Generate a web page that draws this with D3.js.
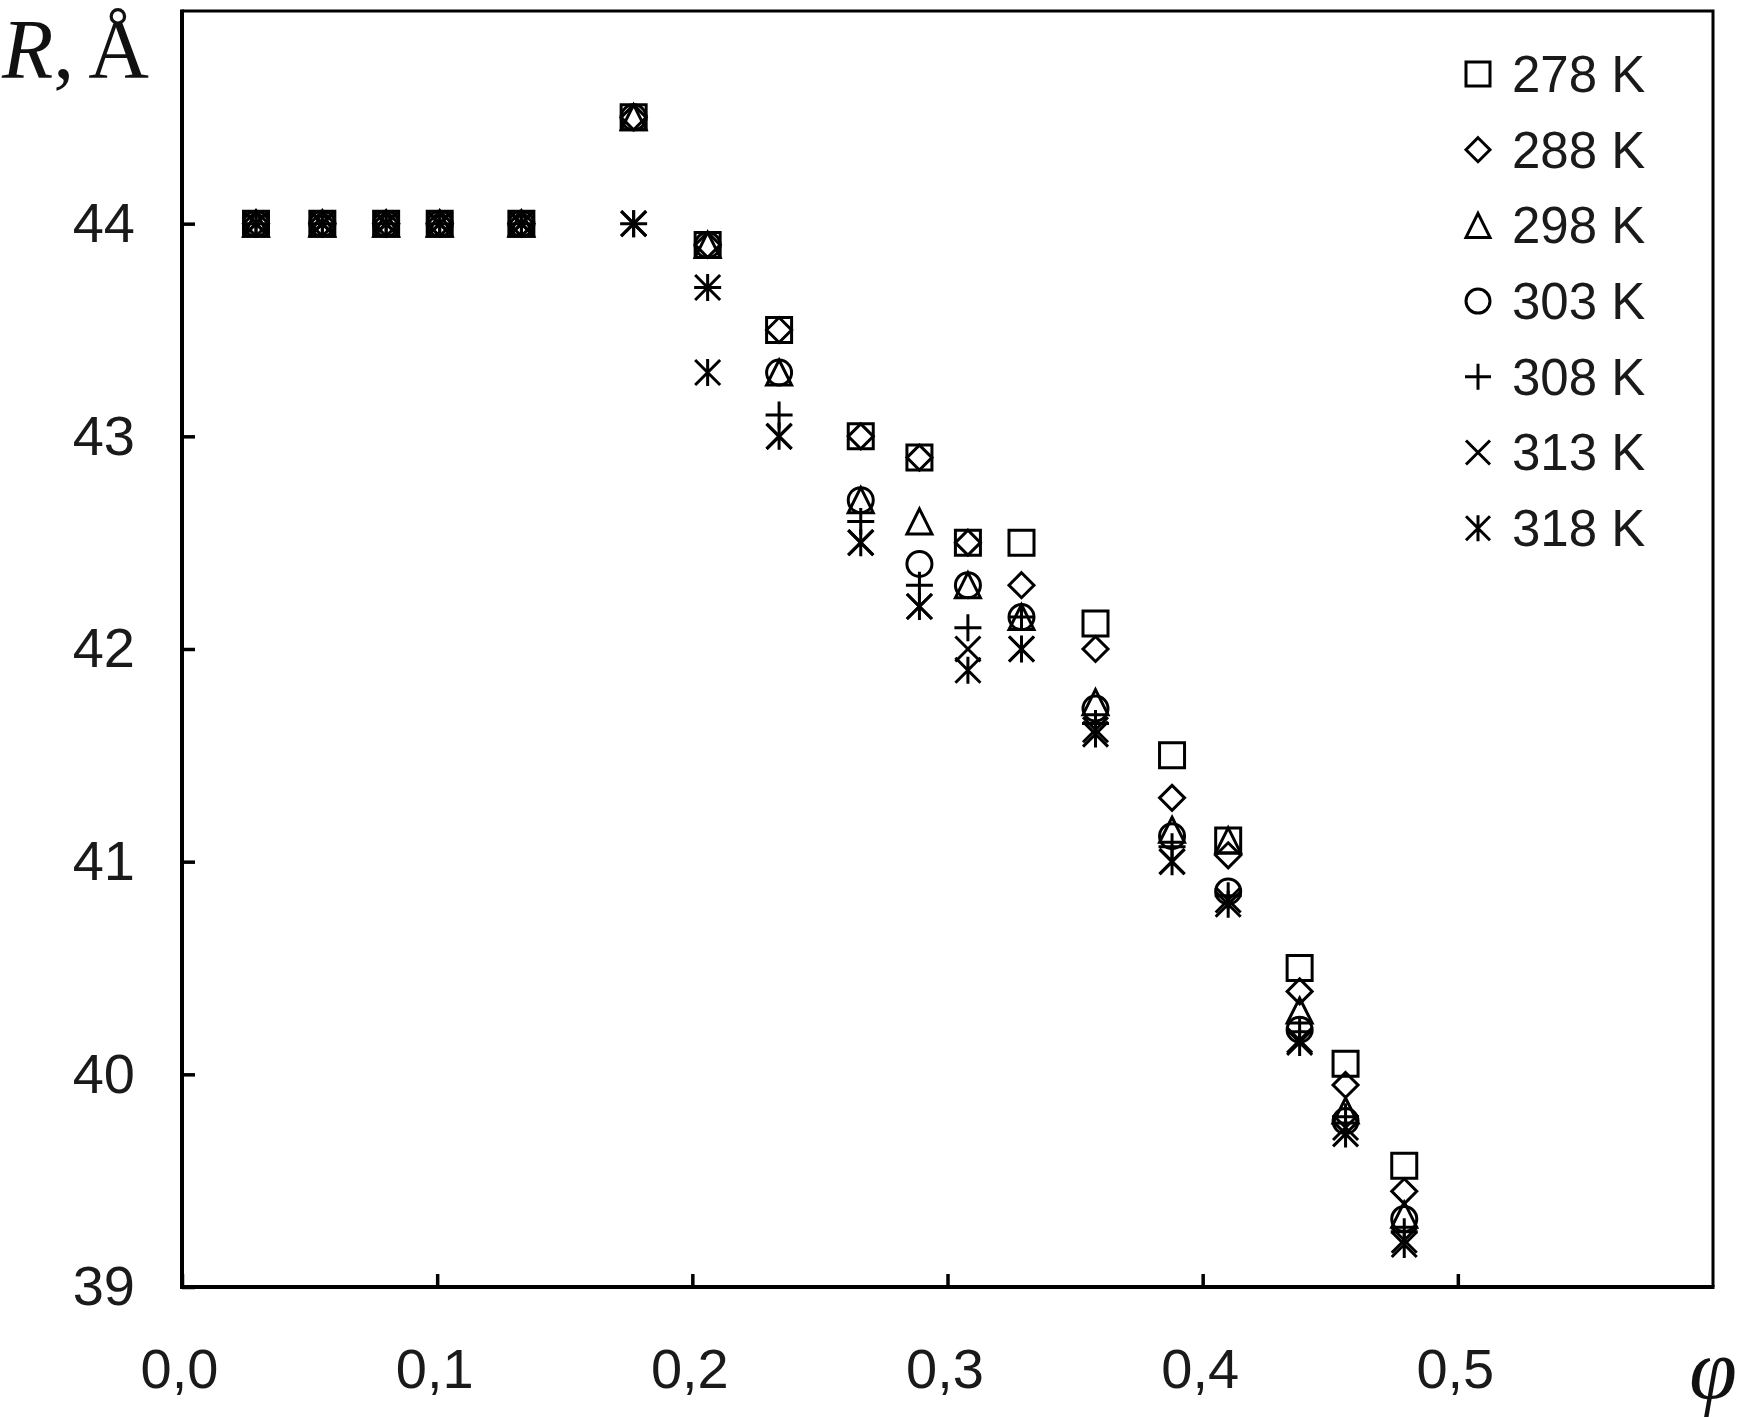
<!DOCTYPE html>
<html>
<head>
<meta charset="utf-8">
<script src="https://cdn.jsdelivr.net/npm/d3@7"></script>
<style>
  body { margin: 0; background: #fff; }
  svg { display: block; }
</style>
</head>
<body>
<div id="chart"></div>
<script>
 const W = 1752;
 const H = 1417;

 // volume fraction, one entry per column of points
 const phi = [0.029, 0.055, 0.080, 0.101, 0.133, 0.177, 0.206, 0.234, 0.266,
              0.289, 0.308, 0.329, 0.358, 0.388, 0.410, 0.438, 0.456, 0.479];

 // radius R (Å) for each temperature
 const r278 = [44, 44, 44, 44, 44, 44.5, 43.9, 43.5, 43.0, 42.9, 42.5, 42.5, 42.12, 41.5, 41.1, 40.5, 40.05, 39.57];
 const r288 = [44, 44, 44, 44, 44, 44.5, 43.9, 43.5, 43.0, 42.9, 42.5, 42.3, 42.0, 41.3, 41.03, 40.39, 39.95, 39.45];
 const r298 = [44, 44, 44, 44, 44, 44.5, 43.9, 43.3, 42.7, 42.6, 42.3, 42.15, 41.75, 41.15, 41.1, 40.3, 39.83, 39.34];
 const r303 = [44, 44, 44, 44, 44, 44.5, 43.9, 43.3, 42.7, 42.4, 42.3, 42.15, 41.72, 41.12, 40.86, 40.21, 39.78, 39.32];
 const r308 = [44, 44, 44, 44, 44, 44.0, 43.7, 43.1, 42.6, 42.3, 42.1, 42.15, 41.65, 41.07, 40.84, 40.2, 39.8, 39.26];
 const r313 = [44, 44, 44, 44, 44, 44.0, 43.7, 43.0, 42.5, 42.2, 42.0, 42.0, 41.62, 41.0, 40.82, 40.16, 39.75, 39.22];
 const r318 = [44, 44, 44, 44, 44, 44.0, 43.3, 43.0, 42.5, 42.2, 41.9, 42.0, 41.6, 41.0, 40.8, 40.15, 39.72, 39.2];

 const labels = ["278 K", "288 K", "298 K", "303 K", "308 K", "313 K", "318 K"];
 const shapes = ["square", "diamond", "triangle", "circle", "plus", "cross", "star"];
 const values = [r278, r288, r298, r303, r308, r313, r318];

 const xTicks = [0, 0.1, 0.2, 0.3, 0.4, 0.5];
 const yTicks = [39, 40, 41, 42, 43, 44];

 const series = labels.map((l, i) => ({ label: l, shape: shapes[i], values: values[i] }));

 const pLeft = 182, pRight = 1713, pTop = 11, pBottom = 1287;

 const x = d3.scaleLinear().domain([0, 0.6]).range([pLeft, pRight]);
 const y = d3.scaleLinear().domain([39, 45]).range([pBottom, pTop]);

 const svg = d3.select("#chart")
   .append("svg")
   .attr("width", W)
   .attr("height", H);

 svg.append("rect").attr("width", W).attr("height", H).attr("fill", "#fff");

 // marker outlines, half size h
 function marker(shape, h) {
   const p = d3.path();
   if (shape == "square") {
     p.rect(-h, -h, 2 * h, 2 * h);
   } else if (shape == "diamond") {
     p.moveTo(0, -h); p.lineTo(h, 0); p.lineTo(0, h); p.lineTo(-h, 0); p.closePath();
   } else if (shape == "triangle") {
     p.moveTo(0, -h); p.lineTo(h, h); p.lineTo(-h, h); p.closePath();
   } else if (shape == "circle") {
     p.arc(0, 0, h, 0, 2 * Math.PI);
   } else if (shape == "plus") {
     p.moveTo(-h - 1, 0); p.lineTo(h + 1, 0);
     p.moveTo(0, -h - 1); p.lineTo(0, h + 1);
   } else if (shape == "cross") {
     p.moveTo(-h, -h); p.lineTo(h, h);
     p.moveTo(h, -h); p.lineTo(-h, h);
   } else {
     p.moveTo(-h, -h); p.lineTo(h, h);
     p.moveTo(h, -h); p.lineTo(-h, h);
     p.moveTo(0, -h - 1); p.lineTo(0, h + 1);
   }
   return p.toString();
 }

 const fmt = d => d.toFixed(1).replace(".", ",");

 // y axis
 const gy = svg.append("g")
   .attr("transform", "translate(" + pLeft + ",0)")
   .call(d3.axisLeft(y).tickValues(yTicks).tickSize(-13).tickPadding(47).tickFormat(d => d));
 gy.select(".domain").remove();
 gy.selectAll("line").attr("stroke", "#000").attr("stroke-width", 3.5);
 gy.selectAll("text")
   .attr("font-family", "Liberation Sans, Arial, sans-serif")
   .attr("font-size", 56)
   .attr("fill", "#1a1a1a");

 // x axis
 const gx = svg.append("g")
   .attr("transform", "translate(0," + pBottom + ")")
   .call(d3.axisBottom(x).tickValues(xTicks).tickSize(-13).tickPadding(61).tickFormat(fmt));
 gx.select(".domain").remove();
 gx.selectAll("line").attr("stroke", "#000").attr("stroke-width", 3.5);
 gx.selectAll("text")
   .attr("x", -3)
   .attr("font-family", "Liberation Sans, Arial, sans-serif")
   .attr("font-size", 56)
   .attr("fill", "#1a1a1a");

 // frame
 svg.append("path")
   .attr("d", "M" + pLeft + "," + pTop + "H" + pRight + "V" + pBottom)
   .attr("fill", "none").attr("stroke", "#000").attr("stroke-width", 3);
 svg.append("path")
   .attr("d", "M" + pLeft + "," + (pTop - 1.5) + "V" + pBottom + "H" + (pRight + 1.5))
   .attr("fill", "none").attr("stroke", "#000").attr("stroke-width", 4);

 // points
 series.forEach(s => {
   svg.append("g")
     .selectAll("path")
     .data(s.values.map((v, i) => [phi[i], v]))
     .enter()
     .append("path")
     .attr("transform", d => "translate(" + x(d[0]) + "," + y(d[1]) + ")")
     .attr("d", marker(s.shape, 12.5))
     .attr("fill", "none")
     .attr("stroke", "#000")
     .attr("stroke-width", 3);
 });

 // legend
 const leg = svg.append("g")
   .selectAll("g")
   .data(series)
   .enter()
   .append("g")
   .attr("transform", (d, i) => "translate(1478," + (74 + i * 75.7) + ")");
 leg.append("path")
   .attr("d", d => marker(d.shape, 12))
   .attr("fill", "none")
   .attr("stroke", "#000")
   .attr("stroke-width", 3);
 leg.append("text")
   .attr("x", 34)
   .attr("dy", "0.35em")
   .attr("font-family", "Liberation Sans, Arial, sans-serif")
   .attr("font-size", 51)
   .attr("fill", "#1a1a1a")
   .text(d => d.label);

 // axis titles
 const ty = svg.append("text")
   .attr("x", 2)
   .attr("y", 78)
   .attr("font-family", "Liberation Serif, Times New Roman, serif")
   .attr("font-size", 84)
   .attr("fill", "#111");
 ty.append("tspan").attr("font-style", "italic").text("R");
 ty.append("tspan").text(",");
 ty.append("tspan").attr("dx", 14).text("Å");

 svg.append("text")
   .attr("x", 1713)
   .attr("y", 1398)
   .attr("text-anchor", "middle")
   .attr("font-family", "Liberation Serif, Times New Roman, serif")
   .attr("font-style", "italic")
   .attr("font-size", 86)
   .attr("fill", "#111")
   .text("φ");
</script>
</body>
</html>
